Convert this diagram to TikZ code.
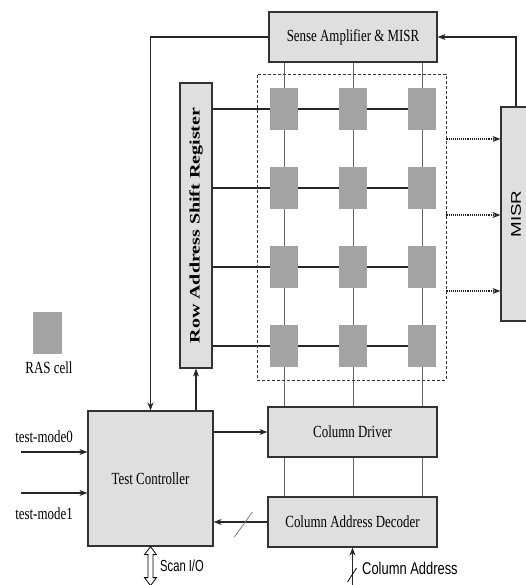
\documentclass[tikz,border=0pt]{standalone}
\usepackage{fontspec}
\setmainfont{Liberation Serif}
\newfontfamily\sansf{Liberation Sans}
\usetikzlibrary{arrows.meta,backgrounds}
\newcommand{\cond}[1]{\scalebox{0.76}[1]{#1}}
\begin{document}
\begin{tikzpicture}[x=1pt,y=-1pt,
  blk/.style={draw=black!80, line width=1.2pt, fill=gray!25, inner sep=0pt},
  cellbox/.style={fill=gray!72, minimum width=28pt, minimum height=42pt, inner sep=0pt},
  colline/.style={draw=gray!80!black, line width=1pt},
  rowline/.style={draw=black!85, line width=1.2pt},
  arr/.style={draw=black!85, line width=1.2pt, -{Stealth[length=8pt,width=6pt]}},
  dasharr/.style={draw=black!85, line width=1.1pt, densely dotted, -{Stealth[length=8pt,width=6pt]}},
  lbl/.style={font=\fontsize{17}{17}\selectfont, inner sep=0pt}]
\useasboundingbox (0,0) rectangle (526,585);

% blocks
\node[blk, minimum width=168pt, minimum height=50pt] (sa) at (353,37) {};
\node[lbl] at (sa.center) {\cond{Sense Amplifier \& MISR}};
\node[draw=black!80, densely dashed, line width=0.9pt, minimum width=189pt, minimum height=306pt, inner sep=0pt] (arr) at (351.5,227) {};
\node[blk, minimum width=32pt, minimum height=285pt] (rasr) at (196,225.5) {};
\node[lbl, rotate=90, font=\bfseries\fontsize{14.5}{14.5}\selectfont] at (rasr.center) {\scalebox{1.38}[1]{Row Address Shift Register}};
\node[blk, minimum width=125pt, minimum height=135pt] (tc) at (150.5,478.5) {};
\node[lbl] at (tc.center) {\cond{Test Controller}};
\node[blk, minimum width=169pt, minimum height=50pt] (cd) at (352.5,432) {};
\node[lbl] at (cd.center) {\cond{Column Driver}};
\node[blk, minimum width=169pt, minimum height=50pt] (cad) at (352.5,522) {};
\node[lbl] at (cad.center) {\cond{Column Address Decoder}};
\node[blk, minimum width=30pt, minimum height=214pt] (misr) at (516,214) {};
\node[lbl, rotate=90, font=\sansf\fontsize{14}{14}\selectfont] at (516,214) {\scalebox{1.34}[1]{MISR}};

% cells
\foreach \r/\yy in {1/109,2/188,3/267,4/346}{
  \foreach \c/\xx in {1/284,2/353,3/422}{
    \node[cellbox] (c\r\c) at (\xx,\yy) {};
  }
}

% legend
\node[cellbox, minimum width=29pt] (leg) at (47.5,333) {};
\node[lbl, anchor=base] at (49,373) {\cond{RAS cell}};

% grid lines behind
\begin{scope}[on background layer]
  \foreach \c in {1,2,3}{
    \draw[colline] (sa.south -| c1\c) -- (cad.north -| c1\c);
  }
  \foreach \r in {1,2,3,4}{
    \draw[rowline] (rasr.east |- c\r1) -- (c\r3.center);
  }
\end{scope}

% connectors
\draw[arr] (sa.west) -| (tc.north);
\draw[arr] (misr.north) |- (sa.east);
\draw[arr] (tc.north -| rasr.south) -- (rasr.south);
\draw[arr] (tc.east |- cd.west) -- (cd.west);
\draw[arr] (cad.west) -- (tc.east |- cad.west);
\draw[line width=0.8pt, draw=gray] ([shift={(-33,15)}]cad.west) -- ([shift={(-15,-10)}]cad.west);
\foreach \yy in {139,215,291}{
  \draw[dasharr] (arr.east |- 0,\yy) -- (misr.west |- 0,\yy);
}
\coordinate (in0) at (21,452);
\coordinate (in1) at (21,493);
\draw[arr] (in0) -- (tc.west |- in0);
\draw[arr] (in1) -- (tc.west |- in1);
\node[lbl, anchor=base] at (44,442) {\cond{test-mode0}};
\node[lbl, anchor=base] at (44,519) {\cond{test-mode1}};

% scan I/O hollow double arrow
\draw[line width=0.8pt, fill=white] (tc.south) -- ++(6,8) -- ++(-3.5,0) -- ++(0,23) -- ++(3.5,0) -- ++(-6,8) -- ++(-6,-8) -- ++(3.5,0) -- ++(0,-23) -- ++(-3.5,0) -- cycle;
\node[lbl, anchor=base west, font=\sansf\fontsize{16}{16}\selectfont] at (160,571) {\scalebox{0.7}[1]{Scan I/O}};

% column address
\coordinate (ca) at (cad.south |- 0,590);
\draw[arr] (ca) -- (cad.south);
\draw[line width=0.8pt] ([shift={(-5,-8)}]ca) -- ([shift={(4,-22)}]ca);
\node[lbl, anchor=base west, font=\sansf\fontsize{17}{17}\selectfont] at (362,574) {\scalebox{0.76}[1]{Column Address}};
\end{tikzpicture}
\end{document}
